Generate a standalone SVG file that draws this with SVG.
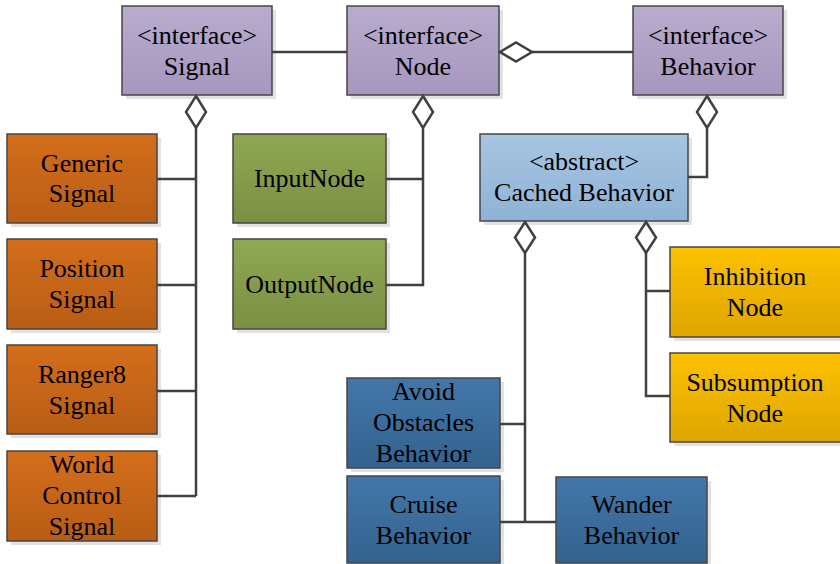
<svg xmlns="http://www.w3.org/2000/svg" width="840" height="564" viewBox="0 0 840 564">
  <defs>
    <linearGradient id="gPurple" x1="0" y1="0" x2="0" y2="1">
      <stop offset="0" stop-color="#b8accd"/>
      <stop offset="1" stop-color="#a796bf"/>
    </linearGradient>
    <linearGradient id="gOrange" x1="0" y1="0" x2="0" y2="1">
      <stop offset="0" stop-color="#d46e1b"/>
      <stop offset="1" stop-color="#b85d15"/>
    </linearGradient>
    <linearGradient id="gGreen" x1="0" y1="0" x2="0" y2="1">
      <stop offset="0" stop-color="#90a852"/>
      <stop offset="1" stop-color="#7a8f43"/>
    </linearGradient>
    <linearGradient id="gLight" x1="0" y1="0" x2="0" y2="1">
      <stop offset="0" stop-color="#a8c5e1"/>
      <stop offset="1" stop-color="#8eb3d7"/>
    </linearGradient>
    <linearGradient id="gBlue" x1="0" y1="0" x2="0" y2="1">
      <stop offset="0" stop-color="#4377a9"/>
      <stop offset="1" stop-color="#33628f"/>
    </linearGradient>
    <linearGradient id="gYellow" x1="0" y1="0" x2="0" y2="1">
      <stop offset="0" stop-color="#fdc100"/>
      <stop offset="1" stop-color="#dea600"/>
    </linearGradient>
  </defs>
  <style>
    .shadow { fill: #e2e2e2; }
    .box { stroke: #464646; stroke-width: 1.5; }
    .purple { fill: url(#gPurple); }
    .orange { fill: url(#gOrange); }
    .green { fill: url(#gGreen); }
    .light { fill: url(#gLight); }
    .blue { fill: url(#gBlue); }
    .yellow { fill: url(#gYellow); }
    text { font-family: "Liberation Serif", "Times New Roman", serif; font-size: 26px; fill: #000000; text-anchor: middle; }
    .wire { fill: none; stroke: #404040; stroke-width: 2.5; }
    .agg { fill: #ffffff; stroke: #404040; stroke-width: 2.5; stroke-linejoin: miter; }
  </style>

  <!-- interfaces -->
  <g id="signal">
    <rect class="shadow" x="126" y="10" width="150" height="89"/>
    <rect class="box purple" x="122" y="6" width="150" height="89"/>
    <text x="197" y="44">&lt;interface&gt;</text>
    <text x="197" y="75">Signal</text>
  </g>
  <g id="node">
    <rect class="shadow" x="351" y="10" width="152" height="89"/>
    <rect class="box purple" x="347" y="6" width="152" height="89"/>
    <text x="423" y="44">&lt;interface&gt;</text>
    <text x="423" y="75">Node</text>
  </g>
  <g id="behavior">
    <rect class="shadow" x="637" y="10" width="150" height="89"/>
    <rect class="box purple" x="633" y="6" width="150" height="89"/>
    <text x="708" y="44">&lt;interface&gt;</text>
    <text x="708" y="75">Behavior</text>
  </g>

  <!-- signals -->
  <g id="generic-signal">
    <rect class="shadow" x="11" y="138" width="150" height="89"/>
    <rect class="box orange" x="7" y="134" width="150" height="89"/>
    <text x="82" y="172">Generic</text>
    <text x="82" y="202">Signal</text>
  </g>
  <g id="position-signal">
    <rect class="shadow" x="11" y="243" width="150" height="90"/>
    <rect class="box orange" x="7" y="239" width="150" height="90"/>
    <text x="82" y="277">Position</text>
    <text x="82" y="308">Signal</text>
  </g>
  <g id="ranger8-signal">
    <rect class="shadow" x="11" y="349" width="150" height="89"/>
    <rect class="box orange" x="7" y="345" width="150" height="89"/>
    <text x="82" y="383">Ranger8</text>
    <text x="82" y="414">Signal</text>
  </g>
  <g id="world-control-signal">
    <rect class="shadow" x="11" y="455" width="150" height="90"/>
    <rect class="box orange" x="7" y="451" width="150" height="90"/>
    <text x="82" y="473">World</text>
    <text x="82" y="504">Control</text>
    <text x="82" y="535">Signal</text>
  </g>

  <!-- nodes -->
  <g id="input-node">
    <rect class="shadow" x="237" y="138" width="153" height="89"/>
    <rect class="box green" x="233" y="134" width="153" height="89"/>
    <text x="309.5" y="187">InputNode</text>
  </g>
  <g id="output-node">
    <rect class="shadow" x="237" y="243" width="153" height="90"/>
    <rect class="box green" x="233" y="239" width="153" height="90"/>
    <text x="309.5" y="293">OutputNode</text>
  </g>

  <!-- behaviors -->
  <g id="cached-behavior">
    <rect class="shadow" x="484" y="138" width="208" height="87"/>
    <rect class="box light" x="480" y="134" width="208" height="87"/>
    <text x="584" y="170">&lt;abstract&gt;</text>
    <text x="584" y="201">Cached Behavior</text>
  </g>
  <g id="inhibition-node">
    <rect class="shadow" x="674" y="251" width="170" height="90"/>
    <rect class="box yellow" x="670" y="247" width="172" height="90"/>
    <text x="755" y="285">Inhibition</text>
    <text x="755" y="316">Node</text>
  </g>
  <g id="subsumption-node">
    <rect class="shadow" x="674" y="357" width="170" height="89"/>
    <rect class="box yellow" x="670" y="353" width="172" height="89"/>
    <text x="755" y="391">Subsumption</text>
    <text x="755" y="422">Node</text>
  </g>
  <g id="avoid-obstacles-behavior">
    <rect class="shadow" x="351" y="382" width="153" height="90"/>
    <rect class="box blue" x="347" y="378" width="153" height="90"/>
    <text x="423.5" y="400">Avoid</text>
    <text x="423.5" y="431">Obstacles</text>
    <text x="423.5" y="462">Behavior</text>
  </g>
  <g id="cruise-behavior">
    <rect class="shadow" x="351" y="480" width="153" height="87"/>
    <rect class="box blue" x="347" y="476" width="153" height="87"/>
    <text x="423.5" y="513">Cruise</text>
    <text x="423.5" y="544">Behavior</text>
  </g>
  <g id="wander-behavior">
    <rect class="shadow" x="560" y="481" width="151" height="86"/>
    <rect class="box blue" x="556" y="477" width="151" height="86"/>
    <text x="631.5" y="513">Wander</text>
    <text x="631.5" y="544">Behavior</text>
  </g>

  <!-- connectors, drawn over the box shadows -->
  <g id="connectors">
    <path class="wire" d="M272 52 H347"/>
    <path class="wire" d="M532 52 H633"/>
    <polygon class="agg" points="500,52 516,42.5 532,52 516,61.5"/>

    <path class="wire" d="M196 128 V496 M157 179 H196 M157 285 H196 M157 391 H196 M157 496 H196"/>
    <polygon class="agg" points="196,96 206,112 196,128 186,112"/>

    <path class="wire" d="M423 128 V285 H386 M386 179 H423"/>
    <polygon class="agg" points="423,96 433,112 423,128 413,112"/>

    <path class="wire" d="M707 128 V177 H688"/>
    <polygon class="agg" points="707,96 717,112 707,128 697,112"/>

    <path class="wire" d="M525 253 V522 M500 424 H525 M500 522 H556"/>
    <polygon class="agg" points="525,222 535,237.5 525,253 515,237.5"/>

    <path class="wire" d="M646 253 V396 H670 M646 291 H670"/>
    <polygon class="agg" points="646,222 656,237.5 646,253 636,237.5"/>
  </g>
</svg>
